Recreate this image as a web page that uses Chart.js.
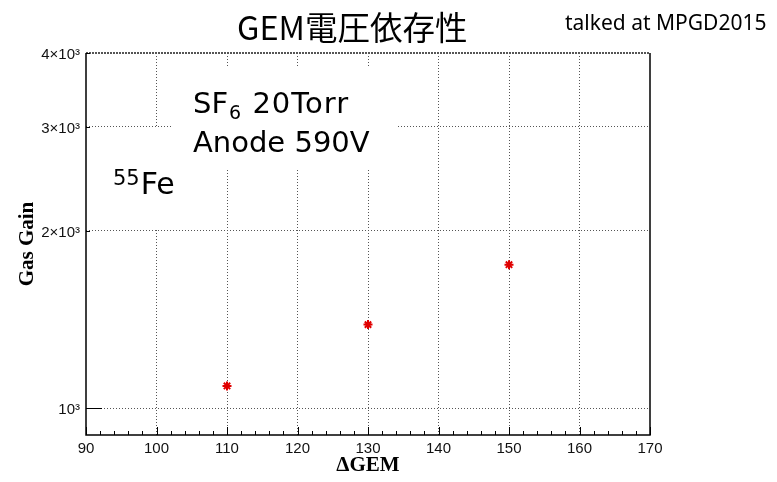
<!DOCTYPE html>
<html>
<head>
<meta charset="utf-8">
<script src="https://cdn.jsdelivr.net/npm/chart.js@4/dist/chart.umd.min.js"></script>
<style>
  html, body { margin: 0; padding: 0; background: #fff; }
  #wrap { position: relative; width: 777px; height: 482px; }
</style>
</head>
<body>
<div id="wrap"><canvas id="c" width="777" height="482"></canvas></div>
<script>
// GEM voltage difference (V) and the measured gas gain
const gemVoltage = [110, 130, 150];
const gasGain = [1090, 1385, 1750];

// axis ticks
const xMajorTicks = [90, 100, 110, 120, 130, 140, 150, 160, 170];
const yTickValues = [1000, 2000, 3000, 4000];
const yTickLabels = ['10\u00B3', '2\u00D710\u00B3', '3\u00D710\u00B3', '4\u00D710\u00B3'];

const titleText = 'GEM\u96FB\u5727\u4F9D\u5B58\u6027';
const noteText = 'talked at MPGD2015';

const GRID = '#555';
const tickFont = { family: '"Liberation Sans", Arial, sans-serif', size: 15 };
const axisTitleFont = { family: '"Liberation Serif", "Times New Roman", serif', size: 21, weight: 'bold' };
const handFont = '"DejaVu Sans", sans-serif';

// white panels with the gas / source annotations
const annotationPlugin = {
  id: 'annotations',
  beforeDatasetsDraw(chart) {
    const ctx = chart.ctx;
    ctx.save();
    ctx.fillStyle = '#fff';
    ctx.fillRect(172, 68, 224, 100);
    ctx.fillRect(106, 128, 96, 101);

    ctx.fillStyle = '#000';
    ctx.textBaseline = 'alphabetic';
    ctx.textAlign = 'left';
    // SF6 20Torr
    ctx.font = '29px ' + handFont;
    ctx.fillText('SF', 193, 113);
    let w = ctx.measureText('SF').width;
    ctx.font = '19px ' + handFont;
    ctx.fillText('6', 193 + w + 1, 119);
    let w6 = ctx.measureText('6').width;
    ctx.font = '29px ' + handFont;
    ctx.letterSpacing = '1px';
    ctx.fillText(' 20Torr', 193 + w + w6 + 2, 113);
    ctx.letterSpacing = '0px';
    // Anode 590V
    ctx.fillText('Anode 590V', 193, 152);
    // 55Fe
    ctx.font = '21px ' + handFont;
    ctx.fillText('55', 113, 185);
    let w55 = ctx.measureText('55').width;
    ctx.font = '30px ' + handFont;
    ctx.fillText('Fe', 113 + w55 + 1, 194);
    ctx.restore();
  },
  afterDraw(chart) {
    const ctx = chart.ctx;
    const a = chart.chartArea;
    const xs = chart.scales.x, ys = chart.scales.y;
    ctx.save();
    // frame
    ctx.strokeStyle = '#000';
    ctx.lineWidth = 1.5;
    ctx.beginPath();
    ctx.moveTo(a.left, a.top);
    ctx.lineTo(a.left, a.bottom);
    ctx.lineTo(a.right, a.bottom);
    ctx.lineTo(a.right, a.top);
    ctx.stroke();
    ctx.strokeStyle = '#555';
    ctx.lineWidth = 2;
    ctx.setLineDash([2, 1]);
    ctx.beginPath();
    ctx.moveTo(a.left, a.top);
    ctx.lineTo(a.right, a.top);
    ctx.stroke();
    ctx.setLineDash([]);
    // inward ticks on the x axis
    ctx.strokeStyle = '#000';
    ctx.lineWidth = 1;
    ctx.beginPath();
    xs.ticks.forEach(t => {
      const px = Math.round(xs.getPixelForValue(t.value)) + 0.5;
      const len = xMajorTicks.includes(t.value) ? 8 : 4;
      ctx.moveTo(px, a.bottom);
      ctx.lineTo(px, a.bottom - len);
    });
    ctx.stroke();
    // inward ticks on the y axis
    ctx.beginPath();
    yTickValues.forEach(v => {
      const py = Math.round(ys.getPixelForValue(v)) + 0.5;
      const len = v === 1000 ? 16 : 4;
      ctx.moveTo(a.left, py);
      ctx.lineTo(a.left + len, py);
    });
    ctx.stroke();

    // headings
    ctx.fillStyle = '#000';
    ctx.textBaseline = 'alphabetic';
    ctx.textAlign = 'left';
    ctx.font = '32.5px "Noto Sans CJK JP", "Noto Sans", sans-serif';
    ctx.fillText(titleText, 237, 40);
    ctx.font = '21px "Noto Sans", sans-serif';
    ctx.fillText(noteText, 565, 30);
    ctx.restore();
  }
};

new Chart(document.getElementById('c'), {
  type: 'scatter',
  data: {
    datasets: [{
      data: gemVoltage.map((x, i) => ({ x: x, y: gasGain[i] })),
      pointStyle: 'star',
      pointRadius: 4.5,
      pointBorderWidth: 2,
      pointBorderColor: '#e00000',
      pointBackgroundColor: '#e00000'
    }]
  },
  options: {
    responsive: false,
    animation: false,
    events: [],
    layout: { padding: { left: 0, right: 127, top: 53, bottom: 0 } },
    plugins: { legend: { display: false }, tooltip: { enabled: false }, title: { display: false } },
    scales: {
      x: {
        type: 'linear',
        min: 90, max: 170,
        afterFit: s => { s.height = 47; },
        ticks: {
          stepSize: 2,
          autoSkip: false,
          maxRotation: 0,
          maxTicksLimit: 100,
          padding: 5,
          color: '#111',
          font: tickFont,
          callback: v => (xMajorTicks.includes(v) ? String(v) : '')
        },
        grid: {
          drawTicks: false,
          lineWidth: 1,
          color: c => (c.tick && xMajorTicks.includes(c.tick.value) && c.tick.value !== 90 && c.tick.value !== 170) ? GRID : 'rgba(0,0,0,0)'
        },
        border: { display: false, dash: [1, 2] },
        title: { display: true, text: '\u0394GEM', font: axisTitleFont, color: '#000', padding: { top: 0, bottom: 4 } }
      },
      y: {
        type: 'logarithmic',
        min: 900, max: 4000,
        afterFit: s => { s.width = 86; },
        afterBuildTicks: s => { s.ticks = yTickValues.map(v => ({ value: v })); },
        ticks: {
          padding: 6,
          labelOffset: 2,
          color: '#111',
          font: tickFont,
          callback: v => { const i = yTickValues.indexOf(v); return i >= 0 ? yTickLabels[i] : ''; }
        },
        grid: {
          drawTicks: false,
          lineWidth: 1,
          color: c => (c.tick && c.tick.value < 4000) ? GRID : 'rgba(0,0,0,0)'
        },
        border: { display: false, dash: [1, 2] },
        title: { display: true, text: 'Gas Gain', font: axisTitleFont, color: '#000', padding: { top: 15, bottom: 0 } }
      }
    }
  },
  plugins: [annotationPlugin]
});
</script>
</body>
</html>
